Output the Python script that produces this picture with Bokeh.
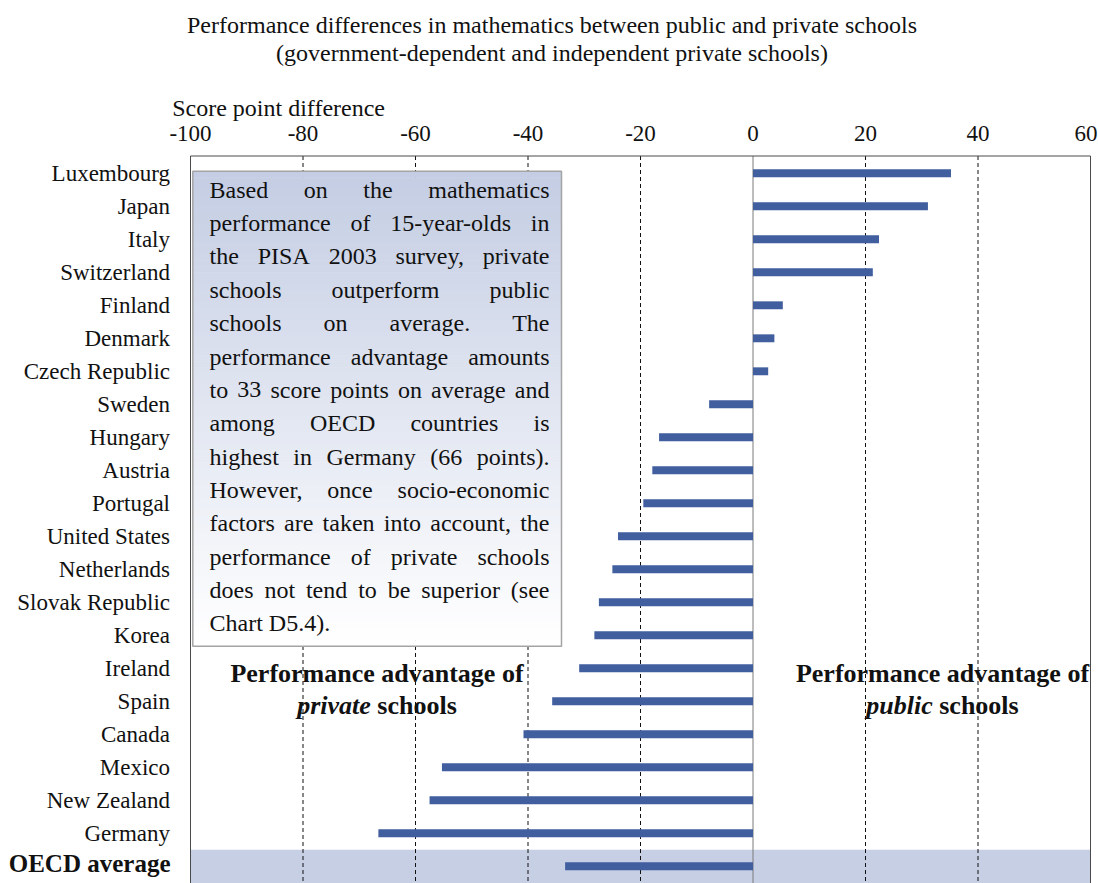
import glob
from bokeh.plotting import figure
from bokeh.models import Range1d
from bokeh.core.properties import value
from bokeh.embed import file_html
from bokeh.resources import INLINE

# ---------------- data ----------------
countries = ["Luxembourg", "Japan", "Italy", "Switzerland", "Finland", "Denmark",
             "Czech Republic", "Sweden", "Hungary", "Austria", "Portugal",
             "United States", "Netherlands", "Slovak Republic", "Korea", "Ireland",
             "Spain", "Canada", "Mexico", "New Zealand", "Germany", "OECD average"]
diff = [35.2, 31.1, 22.4, 21.3, 5.3, 3.8, 2.7, -7.8, -16.7, -17.9, -19.5,
        -24.0, -25.0, -27.4, -28.2, -30.9, -35.7, -40.8, -55.3, -57.5, -66.6, -33.4]
x_ticks = [-100, -80, -60, -40, -20, 0, 20, 40, 60]
grid_ticks = [-80, -60, -40, -20, 20, 40]

title_lines = ["Performance differences in mathematics between public and private schools",
               "(government-dependent and independent private schools)"]
axis_title = "Score point difference"
box_lines = ["Based on the mathematics",
             "performance of 15-year-olds in",
             "the PISA 2003 survey, private",
             "schools outperform public",
             "schools on average. The",
             "performance advantage amounts",
             "to 33 score points on average and",
             "among OECD countries is",
             "highest in Germany (66 points).",
             "However, once socio-economic",
             "factors are taken into account, the",
             "performance of private schools",
             "does not tend to be superior (see",
             "Chart D5.4)."]

FONT = "Liberation Serif"
TXT = "#111111"
W, H = 1098, 883
PX0, PPU = 190.0, 900.0 / 160.0   # pixel of x=-100, pixels per unit
ROW, PY21 = 33.0, 172.8            # pixels per row, pixel of first row centre


def dx(px):
    return -100 + (px - PX0) / PPU


def dy(py):
    return 21 - (py - PY21) / ROW


# ---------- text measuring (for justified text) ----------
try:
    from PIL import ImageFont
    HAVE_PIL = True
except Exception:
    HAVE_PIL = False


def find_font(fname):
    for root in ["/usr/share/fonts", "/usr/local/share/fonts", "/usr/share", "/usr"]:
        hits = glob.glob(root + "/**/" + fname, recursive=True)
        if hits:
            return hits[0]
    return None


def measurer(fname, size):
    path = find_font(fname) if HAVE_PIL else None
    if path:
        f = ImageFont.truetype(path, size)
        return lambda s: f.getlength(s)
    return lambda s: 0.46 * size * len(s)


n = len(countries)
ypos = [n - 1 - i for i in range(n)]

p = figure(width=W, height=H, x_range=Range1d(dx(0), dx(W)), y_range=Range1d(dy(H), dy(0)),
           toolbar_location=None, output_backend="svg",
           min_border_left=0, min_border_top=0, min_border_right=0, min_border_bottom=0)
p.axis.visible = False
p.grid.visible = False
p.outline_line_color = None
p.background_fill_color = "white"
p.border_fill_color = "white"

FTOP = dy(155.5)    # top of plotting box
FBOT = dy(H + 10)   # below the visible bottom

# OECD average band
p.quad(left=[x_ticks[0]], right=[x_ticks[-1]], top=[dy(849.3)], bottom=[FBOT],
       fill_color="#C6CFE4", line_color=None)

# grid lines (dashed) and zero line
p.segment(x0=grid_ticks, x1=grid_ticks, y0=[FTOP] * len(grid_ticks),
          y1=[FBOT] * len(grid_ticks), line_color="#111111", line_width=1, line_dash="4 3")
p.segment(x0=[0], x1=[0], y0=[FTOP], y1=[FBOT], line_color="#7a7a7a", line_width=1)

# plot box outline
p.quad(left=[x_ticks[0]], right=[x_ticks[-1]], top=[FTOP], bottom=[FBOT],
       fill_color=None, line_color="#4a4a4a", line_width=1)

# bars
p.hbar(y=ypos, left=0, right=diff, height=0.24, fill_color="#415E9F", line_color=None)

# x tick labels (top); last one nudged inward so it stays on the page
tick_off = [0] * (len(x_ticks) - 1) + [-4.5]
p.text(x=x_ticks, y=[dy(133)] * len(x_ticks), text=[str(t) for t in x_ticks],
       x_offset=tick_off, text_align="center", text_baseline="alphabetic",
       text_font=value(FONT), text_font_size="23px", text_color=TXT)

# country labels
p.text(x=[dx(169.5)] * (n - 1), y=ypos[:-1], text=countries[:-1], y_offset=0,
       text_align="right", text_baseline="alphabetic", text_font=value(FONT),
       text_font_size="23px", text_color=TXT)
p.text(x=[dx(170)], y=ypos[-1:], text=countries[-1:], y_offset=-3,
       text_align="right", text_baseline="alphabetic", text_font=value(FONT),
       text_font_size="25px", text_font_style="bold", text_color=TXT)

# titles
p.text(x=[dx(551.5)] * 2, y=[dy(24.5), dy(52.3)], text=title_lines,
       text_align="center", text_baseline="alphabetic", text_font=value(FONT),
       text_font_size="24px", text_color=TXT)
p.text(x=[dx(171.7)], y=[dy(107.5)], text=[axis_title], text_align="left",
       text_baseline="alphabetic", text_font=value(FONT),
       text_font_size="24px", text_color=TXT)

# text box with vertical gradient
BL, BR, BT, BB = 192.3, 561.0, 170.7, 645.7
NS = 80
c0 = (196, 205, 227)
lefts, rights, tops, bottoms, cols = [], [], [], [], []
for k in range(NS):
    t = BT + (BB - BT) * k / NS
    b = min(BT + (BB - BT) * (k + 1) / NS + 0.6, BB)
    f = k / (NS - 1)
    col = tuple(int(round(c0[j] + (255 - c0[j]) * f)) for j in range(3))
    lefts.append(dx(BL)); rights.append(dx(BR))
    tops.append(dy(t)); bottoms.append(dy(b))
    cols.append("#%02x%02x%02x" % col)
p.quad(left=lefts, right=rights, top=tops, bottom=bottoms, fill_color=cols,
       line_color=None)
p.quad(left=[dx(BL)], right=[dx(BR)], top=[dy(BT)], bottom=[dy(BB)],
       fill_color=None, line_color="#A4A4A4", line_width=1.5)

FS = 24
mw = measurer("LiberationSerif-Regular.ttf", FS)
TL, TR = 209.0, 549.0
lx, ly, lt, rx, ry, rt = [], [], [], [], [], []
for i, line in enumerate(box_lines):
    words = line.split()
    mid = 189.3 + 33.34 * i
    if i == len(box_lines) - 1 or len(words) == 1:
        x = TL
        for w in words:
            lx.append(dx(x)); ly.append(dy(mid)); lt.append(w)
            x += mw(w) + mw(" ")
    else:
        widths = [mw(w) for w in words]
        gap = (TR - TL - sum(widths)) / (len(words) - 1)
        x = TL
        for j, (w, ww) in enumerate(zip(words, widths)):
            if j == len(words) - 1:
                rx.append(dx(TR)); ry.append(dy(mid)); rt.append(w)
            else:
                lx.append(dx(x)); ly.append(dy(mid)); lt.append(w)
            x += ww + gap
p.text(x=lx, y=ly, text=lt, text_align="left", text_baseline="alphabetic",
       text_font=value(FONT), text_font_size=f"{FS}px", text_color=TXT)
p.text(x=rx, y=ry, text=rt, text_align="right", text_baseline="alphabetic",
       text_font=value(FONT), text_font_size=f"{FS}px", text_color=TXT)

# bold annotations
BFS = 26
mb = measurer("LiberationSerif-Bold.ttf", BFS)
mbi = measurer("LiberationSerif-BoldItalic.ttf", BFS)
for cx, ital, rest in [(376.5, "private", "schools"), (942.0, "public", "schools")]:
    p.text(x=[dx(cx)], y=[dy(673)], text=["Performance advantage of"],
           text_align="center", text_baseline="alphabetic", text_font=value(FONT),
           text_font_size=f"{BFS}px", text_font_style="bold", text_color=TXT)
    wi, ws, wr = mbi(ital), mb(" "), mb(rest)
    left = cx - (wi + ws + wr) / 2
    p.text(x=[dx(left)], y=[dy(705)], text=[ital], text_align="left",
           text_baseline="alphabetic", text_font=value(FONT),
           text_font_size=f"{BFS}px", text_font_style="bold italic", text_color=TXT)
    p.text(x=[dx(left + wi + ws)], y=[dy(705)], text=[rest], text_align="left",
           text_baseline="alphabetic", text_font=value(FONT),
           text_font_size=f"{BFS}px", text_font_style="bold", text_color=TXT)

open("out.html", "w").write(file_html(p, INLINE))
